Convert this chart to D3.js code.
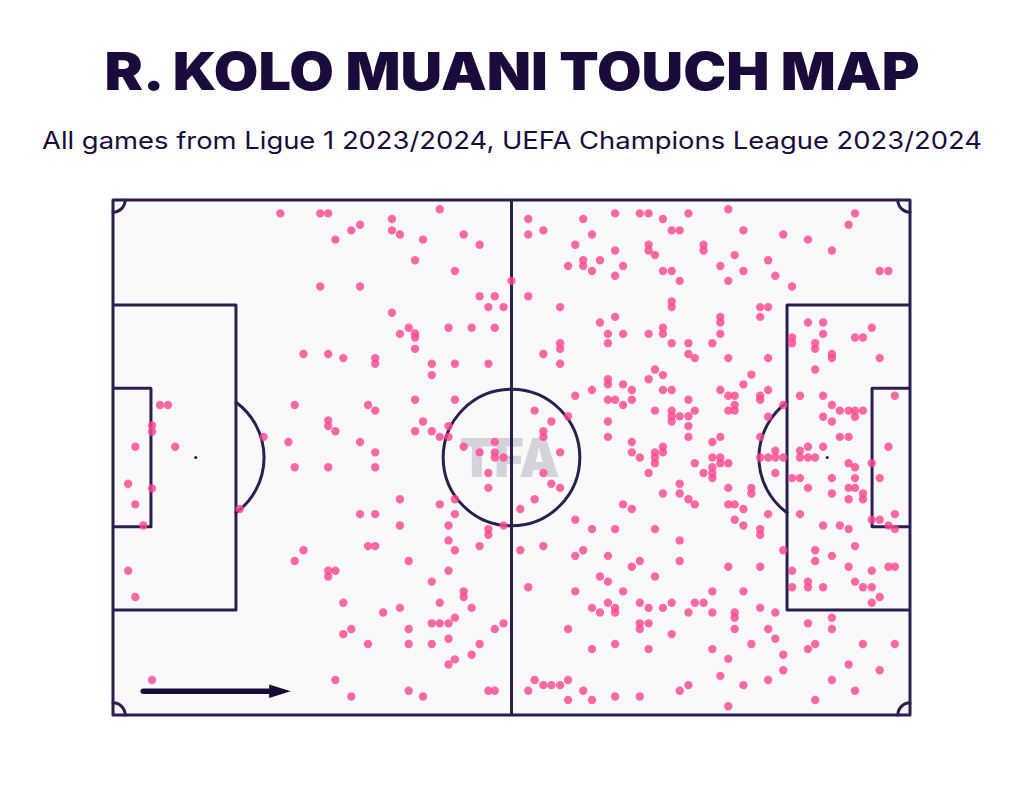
<!DOCTYPE html>
<html>
<head>
<meta charset="utf-8">
<script src="https://cdn.jsdelivr.net/npm/d3@7"></script>
<style>
  html, body { margin: 0; padding: 0; background: #ffffff; }
  svg { display: block; }
</style>
</head>
<body>
<svg id="chart" width="1024" height="800"></svg>
<script>
// ---------- DATA ----------
const titleText = "R. KOLO MUANI TOUCH MAP";
const subtitleText = "All games from Ligue 1 2023/2024, UEFA Champions League 2023/2024";
const watermarkText = "TFA";

// Touch locations, pitch coordinates 0-100 (x: own goal -> opponent goal, y: top -> bottom)
const touchesOwnHalf = [
  [21.0,2.6],[23.9,29.9],[22.8,39.8],[5.9,39.8],[6.9,39.8],[4.9,43.8],[4.9,45.0],[2.8,47.9],[7.8,47.9],[18.9,46.0],[22.0,47.0],
  [1.9,55.1],[4.9,56.0],[2.8,59.1],[3.8,63.2],[15.9,60.0],[22.8,51.9],[23.9,68.0],[22.8,70.1],[1.9,72.0],[2.8,77.1],[4.9,93.2],
  [26.0,2.6],[27.0,2.6],[41.0,1.8],[35.0,3.7],[31.0,4.8],[29.9,5.9],[35.0,5.9],[36.0,6.7],[27.9,7.7],[38.9,7.7],[44.0,6.7],[46.0,8.7],
  [37.9,11.7],[42.9,13.8],[26.0,16.8],[31.0,16.8],[46.0,18.7],[47.9,18.7],[47.1,20.8],[49.0,20.8],[35.0,21.9],[37.1,24.8],[36.0,26.0],
  [37.9,25.9],[37.9,26.7],[42.1,24.8],[45.0,24.8],[47.9,24.8],[37.9,28.9],[27.0,29.9],[28.9,30.7],[32.9,30.7],[32.9,31.8],[40.0,31.8],
  [42.9,31.8],[47.1,31.8],[40.0,34.0],[37.9,38.8],[42.9,38.8],[32.0,39.8],[32.9,40.9],[27.0,42.8],[27.0,43.9],[27.9,44.9],[38.9,43.0],
  [37.9,44.9],[40.0,44.9],[42.1,43.9],[41.0,46.0],[42.1,46.0],[31.0,47.0],[44.0,47.9],[46.0,49.0],[47.9,47.0],[32.9,49.0],[47.9,49.0],
  [47.9,50.0],[49.0,50.0],[27.0,51.9],[32.9,51.9],[47.1,53.0],[47.1,55.9],[36.0,58.1],[41.0,59.1],[42.9,58.1],[31.0,61.0],[32.9,61.0],
  [42.9,61.0],[36.0,63.2],[42.1,63.2],[49.0,63.2],[47.1,63.9],[47.1,65.0],[32.0,67.2],[32.9,67.2],[42.1,66.1],[42.9,68.0],[46.0,67.2],
  [37.1,70.1],[27.0,72.0],[27.9,72.0],[27.0,73.1],[42.1,72.0],[40.0,74.1],[44.0,76.0],[44.0,77.1],[28.9,78.2],[41.0,78.2],[36.0,79.2],
  [33.9,80.1],[45.0,79.2],[42.9,81.1],[40.0,82.2],[41.0,82.2],[42.1,82.2],[29.9,83.3],[28.9,84.3],[37.1,83.3],[47.9,83.3],[49.0,82.2],
  [42.1,85.2],[32.0,86.2],[37.1,86.2],[40.0,86.2],[46.0,86.2],[45.0,88.3],[42.9,89.2],[42.1,90.2],[27.9,93.2],[29.9,96.4],[37.1,95.3],
  [38.9,96.4],[47.1,95.3],[47.9,95.3]
];

const touchesMiddleAttack = [
  [52.1,3.7],[52.1,6.7],[54.0,5.9],[59.0,3.7],[60.1,6.7],[63.0,2.6],[66.1,2.6],[67.2,2.6],[69.0,3.7],[72.2,2.6],[70.1,5.9],[71.1,5.9],
  [58.0,8.7],[63.0,9.8],[67.2,8.7],[67.2,9.8],[68.0,10.7],[74.1,8.7],[74.1,9.8],[57.1,12.8],[59.0,11.7],[59.0,12.8],[60.1,13.8],
  [61.1,11.7],[64.0,12.8],[63.0,14.7],[69.0,13.8],[70.1,13.8],[71.1,15.7],[50.0,15.7],[52.1,18.7],[56.1,20.8],[70.1,19.7],[70.1,20.8],
  [63.0,22.7],[61.1,23.8],[62.1,26.0],[64.0,26.0],[67.2,26.0],[69.0,24.8],[69.0,26.0],[62.1,27.8],[70.1,27.8],[72.2,27.8],[56.1,27.8],
  [56.1,28.9],[54.0,29.9],[56.1,31.8],[72.2,29.9],[73.0,30.7],[68.0,32.9],[67.2,34.8],[69.0,34.0],[62.1,34.8],[62.1,35.8],[64.0,35.8],
  [65.1,36.9],[60.1,36.9],[58.0,38.0],[62.1,38.8],[63.0,38.8],[65.1,38.8],[64.0,39.8],[69.0,36.9],[70.1,36.9],[72.2,38.8],[68.0,40.9],
  [70.1,40.9],[70.1,42.0],[70.1,43.0],[71.1,42.0],[72.2,42.0],[73.0,40.9],[72.2,43.9],[72.2,46.0],[52.9,40.9],[55.0,43.0],[57.1,42.0],
  [54.0,44.9],[54.0,46.0],[62.1,43.0],[62.1,46.0],[56.1,49.0],[65.1,47.0],[65.1,49.0],[68.0,49.0],[69.0,47.9],[69.0,49.0],
  [66.1,50.0],[68.0,50.0],[68.0,51.1],[73.0,51.1],[74.1,53.0],[54.0,53.0],[67.2,53.0],[55.0,55.1],[56.1,55.9],[52.9,58.1],[51.1,60.0],
  [71.1,55.1],[69.0,57.0],[71.1,57.0],[72.2,58.1],[73.0,59.1],[64.0,59.1],[65.1,60.0],[58.0,62.1],[60.1,63.9],[63.0,63.9],[68.0,63.9],
  [71.1,66.1],[51.1,68.0],[54.0,67.2],[59.0,68.0],[58.0,69.1],[62.1,69.1],[71.1,70.1],[65.1,71.2],[66.1,70.1],[61.1,73.1],[62.1,74.1],
  [68.0,73.1],[52.1,75.2],[58.0,76.0],[64.0,76.0],[60.1,79.2],[61.1,80.1],[62.1,78.2],[63.0,79.2],[63.0,80.1],[66.1,78.2],[67.2,79.2],
  [69.0,79.2],[70.1,78.2],[72.2,80.1],[73.0,78.2],[74.1,78.2],[57.1,83.3],[66.1,82.2],[66.1,83.3],[67.2,82.2],[70.1,84.3],[60.1,87.2],
  [63.0,86.2],[67.2,87.2],[52.9,93.2],[54.0,94.2],[55.0,94.2],[56.1,94.2],[57.1,93.2],[52.1,95.3],[59.0,95.3],[57.1,97.1],[60.1,97.1],
  [63.0,96.4],[66.1,96.4],[71.1,95.3],[72.2,94.2]
];

const touchesFinalQuarter = [
  [77.2,1.8],[79.1,5.9],[84.1,6.7],[87.2,7.7],[93.1,2.6],[92.3,4.8],[90.2,9.8],[78.0,10.7],[76.2,12.8],[79.1,13.8],[82.2,11.7],
  [83.1,14.7],[77.2,15.7],[85.2,16.8],[96.2,13.8],[97.3,13.8],[81.2,20.8],[82.2,20.8],[81.2,22.7],[76.2,22.7],[76.2,23.8],[76.2,26.0],
  [75.2,27.8],[87.2,23.8],[89.1,23.8],[89.1,26.0],[85.2,26.7],[85.2,27.8],[88.1,27.8],[88.1,28.9],[93.1,26.7],[94.1,26.7],[95.2,24.8],
  [90.2,29.9],[90.2,30.7],[96.2,30.7],[77.2,30.7],[82.2,30.7],[88.1,32.9],[80.1,33.9],[79.1,35.8],[76.2,36.9],[77.2,38.0],[78.0,38.0],
  [78.0,39.8],[77.2,40.9],[78.0,40.9],[81.2,38.0],[81.2,38.8],[82.2,36.9],[84.1,39.8],[82.2,42.1],[86.2,38.0],[89.1,38.0],[90.2,39.8],
  [91.2,40.9],[92.3,40.9],[93.1,40.9],[94.1,40.9],[93.1,42.1],[89.1,42.1],[90.2,43.0],[98.1,38.0],[91.2,46.0],[92.3,46.0],[97.3,47.9],
  [76.2,46.0],[75.2,47.0],[81.2,46.0],[87.2,47.9],[89.1,47.9],[83.1,48.7],[86.2,48.7],
  [75.2,50.0],[76.2,50.0],[76.2,51.1],[77.2,51.1],[75.2,51.9],[75.2,53.0],[75.2,54.0],[81.2,50.0],[82.2,50.0],[83.1,50.0],[84.1,50.0],
  [86.2,50.0],[87.2,50.0],[88.1,50.0],[83.1,53.0],[85.2,54.0],[86.2,54.0],[87.2,55.9],[90.2,54.0],[90.2,57.0],[92.3,51.1],[93.1,51.9],
  [95.2,51.1],[93.1,54.0],[96.2,54.0],[92.3,55.9],[93.1,55.9],[92.3,58.1],[94.1,57.0],[94.1,58.1],[77.2,55.9],[80.1,55.9],[80.1,57.0],
  [77.2,59.1],[78.0,59.1],[79.1,60.0],[82.2,61.0],[86.2,61.0],[98.1,61.0],[78.0,62.1],[79.1,63.2],[81.2,63.9],[81.2,65.0],[89.1,63.2],
  [91.2,63.2],[92.3,63.9],[95.2,62.1],[96.2,62.1],[97.3,63.2],[98.1,63.9],[84.1,68.0],[88.1,68.0],[88.1,70.1],[90.2,69.1],[93.1,67.2],
  [77.2,71.2],[81.2,71.2],[85.2,72.0],[92.3,71.2],[95.2,72.0],[97.3,71.2],[98.1,71.2],[87.2,74.1],[85.2,75.2],[87.2,75.2],[89.1,75.2],
  [93.1,74.1],[94.1,75.2],[95.2,75.2],[96.2,77.1],[95.2,78.2],[75.2,76.0],[79.1,76.0],[75.2,80.1],[78.0,80.1],[78.0,81.1],[81.2,79.2],
  [83.1,80.1],[78.0,83.3],[82.2,83.3],[83.1,85.2],[90.2,81.1],[90.2,83.3],[87.2,82.2],[80.1,86.2],[75.2,87.2],[77.2,89.1],[84.1,88.3],
  [87.2,87.2],[88.1,86.2],[94.1,86.2],[98.1,86.2],[92.3,90.2],[84.1,91.3],[76.2,92.4],[96.2,91.3],[82.2,93.2],[90.2,93.2],[79.1,94.2],
  [93.1,95.3],[77.2,98.3],[88.1,97.1]
];

const touches = touchesOwnHalf.concat(touchesMiddleAttack, touchesFinalQuarter);

// ---------- LAYOUT ----------
const svg = d3.select("#chart");
const pitchLeft = 113, pitchRight = 910, pitchTop = 200, pitchBottom = 715;
const LEN = 105, WID = 68; // metres for pitch markings
const xm = d3.scaleLinear().domain([0, LEN]).range([pitchLeft, pitchRight]);
const ym = d3.scaleLinear().domain([0, WID]).range([pitchTop, pitchBottom]);
const x = d3.scaleLinear().domain([0, 100]).range([pitchLeft, pitchRight]);
const y = d3.scaleLinear().domain([0, 100]).range([pitchTop, pitchBottom]);
const pxPerM = (pitchRight - pitchLeft) / LEN;

const lineColor = "#2c1e4f";
const textColor = "#1b0b3d";

// Title
svg.append("text")
  .attr("x", 512).attr("y", 90)
  .attr("text-anchor", "middle")
  .attr("font-family", "Inter, 'Noto Sans', sans-serif")
  .attr("font-weight", 900)
  .attr("font-size", 52)
  .attr("textLength", 815)
  .attr("lengthAdjust", "spacingAndGlyphs")
  .attr("fill", textColor)
  .text(titleText);

svg.append("text")
  .attr("x", 512).attr("y", 149)
  .attr("text-anchor", "middle")
  .attr("font-family", "Inter, 'Noto Sans', sans-serif")
  .attr("font-weight", 400)
  .attr("font-size", 24)
  .attr("textLength", 940)
  .attr("lengthAdjust", "spacingAndGlyphs")
  .attr("fill", textColor)
  .text(subtitleText);

// Pitch background
const g = svg.append("g");
g.append("rect")
  .attr("x", xm(0)).attr("y", ym(0))
  .attr("width", xm(LEN) - xm(0)).attr("height", ym(WID) - ym(0))
  .attr("fill", "#f9f9f9");

// Watermark
g.append("text")
  .attr("x", xm(LEN / 2) - 2).attr("y", ym(WID / 2) + 19)
  .attr("text-anchor", "middle")
  .attr("font-family", "Inter, 'Noto Sans', sans-serif")
  .attr("font-weight", 900)
  .attr("font-size", 54)
  .attr("textLength", 100)
  .attr("lengthAdjust", "spacingAndGlyphs")
  .attr("fill", "#d5d2dc")
  .text(watermarkText);

const lines = g.append("g")
  .attr("fill", "none")
  .attr("stroke", lineColor)
  .attr("stroke-width", 3)
  .attr("stroke-linejoin", "round");

// Outer boundary
lines.append("rect")
  .attr("x", xm(0)).attr("y", ym(0))
  .attr("width", xm(LEN) - xm(0)).attr("height", ym(WID) - ym(0));
// Halfway line
lines.append("line")
  .attr("x1", xm(LEN / 2)).attr("x2", xm(LEN / 2))
  .attr("y1", ym(0)).attr("y2", ym(WID));
// Centre circle
const circR = 9.0 * pxPerM;
lines.append("circle")
  .attr("cx", xm(LEN / 2)).attr("cy", ym(WID / 2)).attr("r", circR);

const boxDepth = 16.2, boxWidth = 40.3, sixDepth = 5.0, sixWidth = 18.3, spotDist = 10.9;
function box(side, depth, width) {
  const y0 = ym((WID - width) / 2), y1 = ym((WID + width) / 2);
  const xa = side === 0 ? xm(0) : xm(LEN);
  const xb = side === 0 ? xm(depth) : xm(LEN - depth);
  return `M${xa},${y0} L${xb},${y0} L${xb},${y1} L${xa},${y1}`;
}
[0, 1].forEach(side => {
  lines.append("path").attr("d", box(side, boxDepth, boxWidth));
  lines.append("path").attr("d", box(side, sixDepth, sixWidth));
  // penalty arc outside the box
  const sx = side === 0 ? xm(spotDist) : xm(LEN - spotDist);
  const sy = ym(WID / 2);
  const edge = side === 0 ? xm(boxDepth) : xm(LEN - boxDepth);
  const dx = Math.abs(edge - sx);
  const ang = Math.acos(dx / circR);
  const arc = d3.arc().innerRadius(circR).outerRadius(circR);
  const a0 = side === 0 ? Math.PI / 2 - ang : -Math.PI / 2 - ang;
  const a1 = side === 0 ? Math.PI / 2 + ang : -Math.PI / 2 + ang;
  lines.append("path")
    .attr("transform", `translate(${sx},${sy})`)
    .attr("d", arc({startAngle: a0, endAngle: a1}));
  g.append("circle").attr("cx", sx).attr("cy", sy).attr("r", 1.6).attr("fill", lineColor);
});
// Corner arcs
const cornerR = 1.6 * pxPerM;
[[0, 0, Math.PI / 2, Math.PI], [LEN, 0, Math.PI, 1.5 * Math.PI], [0, WID, 0, Math.PI / 2], [LEN, WID, -Math.PI / 2, 0]].forEach(c => {
  const arc = d3.arc().innerRadius(cornerR).outerRadius(cornerR);
  lines.append("path")
    .attr("transform", `translate(${xm(c[0])},${ym(c[1])})`)
    .attr("d", arc({startAngle: c[2], endAngle: c[3]}));
});
g.append("circle").attr("cx", xm(LEN / 2)).attr("cy", ym(WID / 2)).attr("r", 1.8).attr("fill", lineColor);

// Direction arrow
const arrowY = y(95.4);
g.append("line")
  .attr("x1", x(3.8)).attr("x2", x(20.0))
  .attr("y1", arrowY).attr("y2", arrowY)
  .attr("stroke", "#1a0a3c").attr("stroke-width", 5.5).attr("stroke-linecap", "round");
g.append("path")
  .attr("d", `M${x(19.6)},${arrowY - 6.8} L${x(22.3)},${arrowY} L${x(19.6)},${arrowY + 6.8} Z`)
  .attr("fill", "#1a0a3c");

// Touches
g.append("g").selectAll("circle")
  .data(touches)
  .join("circle")
  .attr("cx", d => x(d[0]))
  .attr("cy", d => y(d[1]))
  .attr("r", 4.2)
  .attr("fill", "#ff4590")
  .attr("fill-opacity", 0.8);
</script>
</body>
</html>
